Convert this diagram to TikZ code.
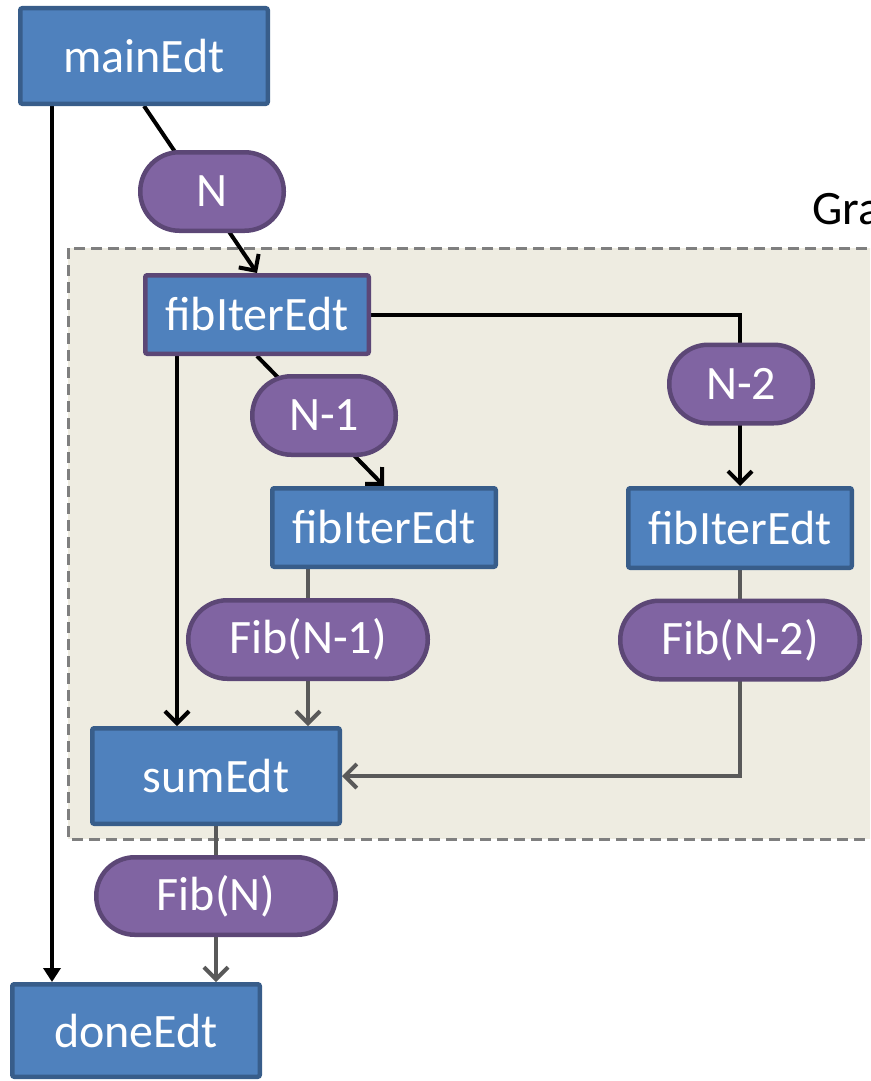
\documentclass[tikz,border=0pt]{standalone}
\usepackage{fontspec}
\setmainfont{Carlito}
\usetikzlibrary{arrows.meta,calc}
\pgfdeclarelayer{bg}
\pgfdeclarelayer{edges}
\pgfsetlayers{bg,edges,main}
\definecolor{boxblue}{HTML}{4F81BD}
\definecolor{boxblueline}{HTML}{385D8A}
\definecolor{pillpurple}{HTML}{8064A2}
\definecolor{pillline}{HTML}{5C4776}
\definecolor{groupfill}{HTML}{EEECE1}
\definecolor{groupline}{HTML}{7F7F7F}
\definecolor{flowgray}{HTML}{595959}
\begin{document}
\begin{tikzpicture}[x=1pt,y=-1pt,
  lbl/.style={font=\fontsize{48}{56}\selectfont},
  edtbox/.style={lbl, draw=boxblueline, fill=boxblue, line width=4.5pt,
    rounded corners=2pt, text=white, inner sep=0pt},
  pill/.style={lbl, draw=pillline, fill=pillpurple, line width=4.5pt,
    rounded corners=39pt, text=white, inner sep=0pt, minimum height=78.5pt},
  vtip/.style={-{Straight Barb[length=12pt,width=24pt]}},
  flow/.style={draw=black, line width=4pt, vtip},
  gflow/.style={draw=flowgray, line width=4pt, vtip},
]
\useasboundingbox (0,0) rectangle (870,1081);

% nodes
\node[edtbox, minimum width=247.5pt, minimum height=95.5pt] (mainEdt) at (144,56) {mainEdt};
\node[pill, minimum width=143.5pt] (N) at (212,191.5) {N};
\node[edtbox, draw=pillline, minimum width=223.5pt, minimum height=78.5pt] (fib1) at (257,314.5) {fibIterEdt};
\node[pill, minimum width=143.5pt] (N1) at (324,415.5) {N-1};
\node[pill, minimum width=143.5pt] (N2) at (741,384) {N-2};
\node[edtbox, minimum width=223.5pt, minimum height=78.5pt] (fib2) at (384,527.5) {fibIterEdt};
\node[edtbox, minimum width=223.5pt, minimum height=79.5pt] (fib3) at (740,528) {fibIterEdt};
\node[pill, minimum width=239.5pt] (FibN1) at (308,639.5) {Fib(N-1)};
\node[pill, minimum width=239.5pt] (FibN2) at (740,640) {Fib(N-2)};
\node[edtbox, minimum width=247.5pt, minimum height=95.5pt] (sum) at (216,776) {sumEdt};
\node[pill, minimum width=239.5pt, minimum height=77.5pt, rounded corners=38.5pt] (FibN) at (216,896) {Fib(N)};
\node[edtbox, minimum width=247.5pt, minimum height=92.5pt] (done) at (136,1030.5) {doneEdt};
\node[lbl, anchor=base west, inner sep=0pt, text=black] (grp) at (812,224) {Gra};

\coordinate (mdout) at ([xshift=-92pt]mainEdt.south);
\coordinate (fsout) at ([xshift=-80pt]fib1.south);

% group background
\begin{pgfonlayer}{bg}
  \clip (0,0) rectangle (870,1081);
  \draw[groupline, fill=groupfill, line width=3pt, dash pattern=on 11pt off 6pt]
    (68,248) rectangle (905,839);
\end{pgfonlayer}

% connectors
\begin{pgfonlayer}{edges}
  \draw[flow] (mainEdt.south) -- (fib1.north);
  \draw[draw=black, line width=4pt, -{Triangle[length=14pt,width=17pt]}] (mdout) -- (mdout |- done.north);
  \draw[flow] (fib1.east) -| (fib3.north);
  \draw[flow] (fib1.south) -- (fib2.north);
  \draw[flow] (fsout) -- (fsout |- sum.north);
  \draw[gflow] (FibN1 |- fib2.south) -- (FibN1 |- sum.north);
  \draw[gflow] (fib3.south) |- (sum.east);
  \draw[gflow] (sum.south) -- (sum.south |- done.north);
\end{pgfonlayer}
\end{tikzpicture}
\end{document}
